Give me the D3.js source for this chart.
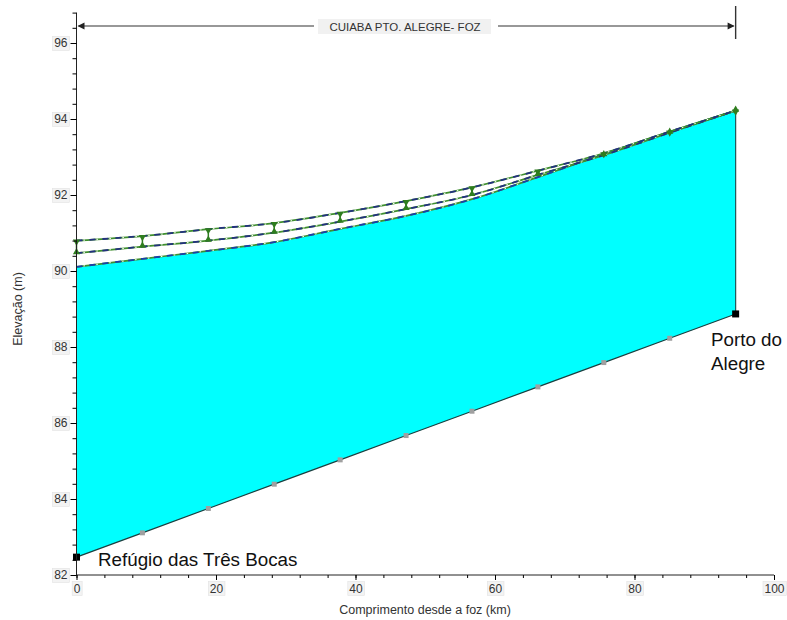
<!DOCTYPE html>
<html>
<head>
<meta charset="utf-8">
<script src="https://cdn.jsdelivr.net/npm/d3@7"></script>
<style>
  body { margin: 0; background: #fff; }
  svg { display: block; font-family: "Liberation Sans", Arial, sans-serif; }
</style>
</head>
<body>
<div id="chart"></div>
<script>
// stations along the reach (km from the mouth)
var stations = [0, 9.45, 18.9, 28.35, 37.8, 47.25, 56.7, 66.15, 75.6, 85.05, 94.5];
// bed elevation (m)
var bed = [82.47, 83.11, 83.75, 84.39, 85.03, 85.67, 86.31, 86.95, 87.59, 88.23, 88.87];
// water surface profiles (m)
var wsLow = [90.11, 90.32, 90.53, 90.76, 91.11, 91.45, 91.89, 92.47, 93.08, 93.66, 94.22];
var wsMid = [90.47, 90.64, 90.80, 91.01, 91.30, 91.63, 92.00, 92.53, 93.05, 93.64, 94.22];
var wsTop = [90.80, 90.92, 91.10, 91.26, 91.53, 91.84, 92.20, 92.64, 93.10, 93.67, 94.22];

var xTicks = [0, 20, 40, 60, 80, 100];
var yTicks = [82, 84, 86, 88, 90, 92, 94, 96];

var width = 787, height = 620;
var narrow = "Liberation Sans Narrow, Liberation Sans, Arial";

var x = d3.scaleLinear().domain([0, 100]).range([76.5, 774]);
var y = d3.scaleLinear().domain([82, 96.8]).range([575, 12.6]);

var svg = d3.select("#chart").append("svg")
  .attr("width", width)
  .attr("height", height);

var pts = function(vals) {
  return stations.map(function(s, i) { return [s, vals[i]]; });
};

var line = d3.line()
  .x(function(d) { return x(d[0]); })
  .y(function(d) { return y(d[1]); })
  .curve(d3.curveMonotoneX);

// cyan area between bed and water surface
var area = d3.area()
  .x(function(d) { return x(d[0]); })
  .y0(function(d) { return y(d[1]); })
  .y1(function(d) { return y(d[2]); })
  .curve(d3.curveMonotoneX);

svg.append("path")
  .datum(stations.map(function(s, i) { return [s, bed[i], wsLow[i]]; }))
  .attr("d", area)
  .attr("fill", "#00ffff");

// right bank vertical
svg.append("line")
  .attr("x1", x(stations[10])).attr("x2", x(stations[10]))
  .attr("y1", y(bed[10])).attr("y2", y(wsLow[10]))
  .attr("stroke", "#225555").attr("stroke-width", 1.2);

// bed line
svg.append("path")
  .datum(pts(bed))
  .attr("d", d3.line().x(function(d) { return x(d[0]); }).y(function(d) { return y(d[1]); }))
  .attr("fill", "none")
  .attr("stroke", "#1a3f3f")
  .attr("stroke-width", 1.2);

svg.selectAll(".bedpt")
  .data(pts(bed).slice(1, 10))
  .enter().append("rect")
  .attr("x", function(d) { return x(d[0]) - 2.5; })
  .attr("y", function(d) { return y(d[1]) - 2.5; })
  .attr("width", 5).attr("height", 5)
  .attr("fill", "#a0a0a0");

svg.selectAll(".bedend")
  .data([pts(bed)[0], pts(bed)[10]])
  .enter().append("rect")
  .attr("x", function(d) { return x(d[0]) - 3.5; })
  .attr("y", function(d) { return y(d[1]) - 3.5; })
  .attr("width", 7).attr("height", 7)
  .attr("fill", "#000");

// water profiles: green with navy dashes on top
function profile(vals, blue) {
  svg.append("path").datum(pts(vals)).attr("d", line)
    .attr("fill", "none").attr("stroke", "#3f8f2f").attr("stroke-width", 1.7);
  svg.append("path").datum(pts(vals)).attr("d", line)
    .attr("fill", "none").attr("stroke", blue).attr("stroke-width", 1.8)
    .attr("stroke-dasharray", "6,7");
  svg.append("path").datum(pts(vals)).attr("d", line)
    .attr("fill", "none").attr("stroke", "#ffffff").attr("stroke-width", 1)
    .attr("stroke-dasharray", "1.5,11.5").attr("stroke-dashoffset", -7);
}
profile(wsLow, "#1c3fa8");
profile(wsMid, "#23307f");
profile(wsTop, "#23307f");

// markers linking the two upper profiles
var marks = svg.append("g");
stations.forEach(function(s, i) {
  marks.append("line")
    .attr("x1", x(s)).attr("x2", x(s))
    .attr("y1", y(wsTop[i])).attr("y2", y(wsMid[i]))
    .attr("stroke", "#2e7d1e").attr("stroke-width", 1.5);
  marks.append("path")
    .attr("d", d3.symbol().type(d3.symbolTriangle).size(22))
    .attr("transform", "translate(" + x(s) + "," + (y(wsTop[i]) + 1) + ") rotate(180)")
    .attr("fill", "#2e7d1e");
  marks.append("path")
    .attr("d", d3.symbol().type(d3.symbolTriangle).size(22))
    .attr("transform", "translate(" + x(s) + "," + (y(wsMid[i]) - 1) + ")")
    .attr("fill", "#2e7d1e");
});

// axes
function boxLabels(g) {
  g.selectAll(".tick text").each(function() {
    var b = this.getBBox();
    d3.select(this.parentNode).insert("rect", "text")
      .attr("x", b.x - 1.5).attr("y", b.y)
      .attr("width", b.width + 3).attr("height", b.height)
      .attr("fill", "#f3f3f3").attr("stroke", "#e2e2e2").attr("stroke-width", 0.6);
  });
}

var xAxis = svg.append("g")
  .attr("transform", "translate(0," + y(82) + ")")
  .call(d3.axisBottom(x).tickValues(xTicks).tickSize(5).tickPadding(4).tickFormat(d3.format("d")));
xAxis.select(".domain").attr("d", "M" + x(0) + ",0H" + x(100)).attr("stroke", "#222");
xAxis.selectAll("text").attr("font-size", 12).attr("fill", "#333").attr("font-family", narrow);
boxLabels(xAxis);

svg.append("g")
  .attr("transform", "translate(0," + y(82) + ")")
  .call(d3.axisBottom(x).tickValues(d3.range(0, 101, 4)).tickSize(3).tickFormat(""))
  .call(function(g) { g.select(".domain").remove(); });

var yAxis = svg.append("g")
  .attr("transform", "translate(" + x(0) + ",0)")
  .call(d3.axisLeft(y).tickValues(yTicks).tickSize(6).tickPadding(3).tickFormat(d3.format("d")));
yAxis.select(".domain").attr("d", "M0," + y(96.8) + "V" + y(82)).attr("stroke", "#222");
yAxis.selectAll("text").attr("font-size", 12).attr("fill", "#333").attr("font-family", narrow);
boxLabels(yAxis);

svg.append("g")
  .attr("transform", "translate(" + x(0) + ",0)")
  .call(d3.axisLeft(y).tickValues(d3.range(82, 96.81, 0.4)).tickSize(4).tickFormat(""))
  .call(function(g) { g.select(".domain").remove(); });

// axis titles
svg.append("text")
  .attr("x", 425).attr("y", 614)
  .attr("text-anchor", "middle")
  .attr("font-size", 12.5).attr("fill", "#333")
  .attr("font-family", narrow)
  .text("Comprimento desde a foz (km)");

svg.append("text")
  .attr("transform", "translate(22," + 309 + ") rotate(-90)")
  .attr("text-anchor", "middle")
  .attr("font-size", 12.5).attr("fill", "#333")
  .attr("font-family", narrow)
  .text("Elevação (m)");

// reach banner
var bY = 26;
var banner = svg.append("g");
banner.append("line").attr("x1", x(0) + 2).attr("x2", 314).attr("y1", bY).attr("y2", bY)
  .attr("stroke", "#333").attr("stroke-width", 1.2);
banner.append("line").attr("x1", 498).attr("x2", x(stations[10]) - 2).attr("y1", bY).attr("y2", bY)
  .attr("stroke", "#333").attr("stroke-width", 1.2);
banner.append("path")
  .attr("d", "M" + (x(0) + 1) + "," + bY + "l7,-3.5v7z").attr("fill", "#222");
banner.append("path")
  .attr("d", "M" + (x(stations[10]) - 1) + "," + bY + "l-7,-3.5v7z").attr("fill", "#222");
banner.append("line").attr("x1", x(stations[10])).attr("x2", x(stations[10]))
  .attr("y1", 6).attr("y2", 39).attr("stroke", "#333").attr("stroke-width", 1.4);
banner.append("rect").attr("x", 318).attr("y", 19).attr("width", 173).attr("height", 15)
  .attr("fill", "#f1f1f1");
banner.append("text")
  .attr("x", 405).attr("y", 31)
  .attr("text-anchor", "middle")
  .attr("font-size", 11.5).attr("fill", "#333")
  .attr("font-family", narrow)
  .text("CUIABA PTO. ALEGRE- FOZ");

// station names
svg.append("text")
  .attr("x", 98).attr("y", 566)
  .attr("font-size", 18.8).attr("fill", "#111")
  .text("Refúgio das Três Bocas");

svg.append("text")
  .attr("x", 711).attr("y", 346)
  .attr("font-size", 18.8).attr("fill", "#111")
  .text("Porto do");
svg.append("text")
  .attr("x", 711).attr("y", 370)
  .attr("font-size", 18.8).attr("fill", "#111")
  .text("Alegre");
</script>
</body>
</html>
